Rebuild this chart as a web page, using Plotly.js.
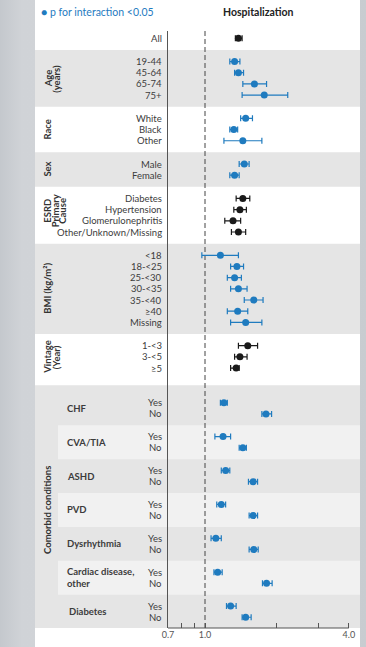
<!DOCTYPE html>
<html>
<head>
<meta charset="utf-8">
<script src="https://cdn.plot.ly/plotly-3.0.1.min.js"></script>
<style>
html,body{margin:0;padding:0;}
body{width:366px;height:647px;overflow:hidden;background:linear-gradient(90deg,#c4c8cd 0%,#d0d3d7 6%,#d2d5d9 50%,#c8ccd0 100%);}
#chart{width:366px;height:647px;}
</style>
</head>
<body>
<div id="chart"></div>
<script>
// ---------------- DATA ----------------
const groupTitles = ['', 'Age<br>(years)', 'Race', 'Sex', 'ESRD<br>Primary<br>Cause', 'BMI (kg/m²)', 'Vintage<br>(Year)', 'Comorbid conditions'];
const groupSizes = [1, 4, 3, 2, 4, 7, 3, 14];
const groupInteraction = [false, true, true, true, false, true, false, true];
const comorbidities = ['CHF', 'CVA/TIA', 'ASHD', 'PVD', 'Dysrhythmia', 'Cardiac disease,<br>other', 'Diabetes'];

const rowLabels = ['All',
  '19-44', '45-64', '65-74', '75+',
  'White', 'Black', 'Other',
  'Male', 'Female',
  'Diabetes', 'Hypertension', 'Glomerulonephritis', 'Other/Unknown/Missing',
  '<18', '18-<25', '25-<30', '30-<35', '35-<40', '≥40', 'Missing',
  '1-<3', '3-<5', '≥5',
  'Yes', 'No', 'Yes', 'No', 'Yes', 'No', 'Yes', 'No', 'Yes', 'No', 'Yes', 'No', 'Yes', 'No'];

const hazardRatio = [1.38,
  1.33, 1.38, 1.61, 1.77,
  1.48, 1.32, 1.44,
  1.46, 1.33,
  1.44, 1.40, 1.31, 1.38,
  1.16, 1.36, 1.33, 1.38, 1.60, 1.37, 1.48,
  1.51, 1.40, 1.35,
  1.20, 1.80, 1.19, 1.44, 1.22, 1.59, 1.17, 1.59, 1.11, 1.60, 1.13, 1.81, 1.28, 1.48];

const lowerCI = [1.34,
  1.27, 1.33, 1.44, 1.43,
  1.41, 1.27, 1.20,
  1.39, 1.27,
  1.35, 1.32, 1.21, 1.29,
  0.97, 1.28, 1.24, 1.28, 1.46, 1.24, 1.28,
  1.38, 1.33, 1.28,
  1.16, 1.73, 1.10, 1.39, 1.17, 1.52, 1.12, 1.53, 1.06, 1.53, 1.09, 1.74, 1.23, 1.43];

const upperCI = [1.43,
  1.40, 1.45, 1.81, 2.22,
  1.58, 1.37, 1.73,
  1.53, 1.39,
  1.54, 1.49, 1.41, 1.48,
  1.38, 1.45, 1.42, 1.50, 1.75, 1.51, 1.73,
  1.66, 1.50, 1.39,
  1.24, 1.90, 1.28, 1.49, 1.27, 1.66, 1.22, 1.66, 1.17, 1.67, 1.18, 1.91, 1.35, 1.56];

const xTickVals = [0.7, 0.8, 0.9, 1.0, 2.0, 3.0, 4.0];
const xTickText = ['0.7', '', '', '1.0', '', '', '4.0'];

// ---------------- LAYOUT HELPERS ----------------
const W = 366, H = 647, ML = 168, MR = 8, MT = 31, MB = 19;
const plotW = W - ML - MR, plotH = H - MT - MB;
const pxX = p => (p - ML) / plotW;
const pxY = p => (H - MB - p) / plotH;
const esc = s => s.replace(/</g, '&lt;');

const BLUE = '#1f7bbf', BLACK = '#1a1a1a';
const FONT = 'Lato, "Open Sans", sans-serif';
const COMORBID = groupTitles.length - 1;

// row positions (row units)
const rowY = [], rowSig = [];
const groupFirst = [], groupLast = [];
let y = 0, idx = 0;
groupSizes.forEach((n, g) => {
  if (g > 0) y += (g === COMORBID ? 3.1 : 2.08);
  groupFirst.push(idx);
  for (let i = 0; i < n; i++) {
    if (i > 0) y += (g === COMORBID && i % 2 === 0) ? 2.03 : 1.0;
    rowY.push(y); rowSig.push(groupInteraction[g]);
    idx++;
  }
  groupLast.push(idx - 1);
});
const yMax = rowY[rowY.length - 1] + 0.96;
const yMin = -0.65;

// ---------------- TRACES ----------------
function makeTrace(sig) {
  const ids = rowY.map((_, i) => i).filter(i => rowSig[i] === sig);
  const col = sig ? BLUE : BLACK;
  return {
    type: 'scatter', mode: 'markers',
    x: ids.map(i => hazardRatio[i]),
    y: ids.map(i => rowY[i]),
    marker: {color: col, size: 7},
    error_x: {type: 'data', symmetric: false,
      array: ids.map(i => upperCI[i] - hazardRatio[i]),
      arrayminus: ids.map(i => hazardRatio[i] - lowerCI[i]),
      color: col, thickness: 1.2, width: 3},
    hoverinfo: 'skip', showlegend: false, cliponaxis: false
  };
}
const traces = [makeTrace(false), makeTrace(true)];

// ---------------- SHAPES ----------------
const shapes = [];
shapes.push({type: 'rect', layer: 'below', xref: 'paper', yref: 'paper',
  x0: pxX(35), x1: pxX(360), y0: pxY(H + 2), y1: pxY(-2), fillcolor: '#ffffff', line: {width: 0}});
for (let g = 1; g < groupTitles.length; g++) {
  if (g % 2 === 0) continue;
  const y0 = (rowY[groupLast[g - 1]] + rowY[groupFirst[g]]) / 2;
  const y1 = g < groupTitles.length - 1 ? (rowY[groupLast[g]] + rowY[groupFirst[g + 1]]) / 2 : yMax;
  shapes.push({type: 'rect', layer: 'below', xref: 'paper', yref: 'y',
    x0: pxX(35), x1: pxX(360), y0: y0, y1: y1, fillcolor: '#e5e5e5', line: {width: 0}});
}
// lighter sub-bands inside comorbid block
const cFirst = groupFirst[COMORBID];
for (let k = 1; k < comorbidities.length; k += 2) {
  const a = cFirst + 2 * k;
  const y0 = (rowY[a - 1] + rowY[a]) / 2;
  const y1 = (rowY[a + 1] + rowY[a + 2]) / 2;
  shapes.push({type: 'rect', layer: 'below', xref: 'paper', yref: 'y',
    x0: pxX(58), x1: pxX(360), y0: y0, y1: y1, fillcolor: '#f1f1f1', line: {width: 0}});
}
// reference line at HR = 1
shapes.push({type: 'line', layer: 'below', xref: 'x', yref: 'paper', x0: 1, x1: 1, y0: 0, y1: 1,
  line: {color: '#444', width: 1, dash: '5px,3px'}});
// x-axis baseline
shapes.push({type: 'line', xref: 'x', yref: 'paper', x0: 0.7, x1: 4.0, y0: 0, y1: 0,
  line: {color: '#555', width: 1.2}});

// ---------------- ANNOTATIONS ----------------
const ann = [];
const labelFont = {family: FONT, size: 9.5, color: '#3c3c3c'};
rowLabels.forEach((lab, i) => {
  ann.push({xref: 'paper', yref: 'y', x: pxX(163.5), y: rowY[i], xanchor: 'right', yanchor: 'middle',
    text: esc(lab), showarrow: false, font: labelFont});
});
groupTitles.forEach((t, g) => {
  if (!t) return;
  const lines = t.split('<br>');
  const yc = (rowY[groupFirst[g]] + rowY[groupLast[g]]) / 2 - (lines.length > 2 ? 0.4 : 0);
  const step = lines.length > 2 ? 7.5 : 8.5;
  lines.forEach((line, j) => {
    ann.push({xref: 'paper', yref: 'y', x: pxX(48 + j * step), y: yc,
      xanchor: 'center', yanchor: 'middle', textangle: -90, text: '<b>' + line + '</b>',
      showarrow: false, font: {family: FONT, size: 9.5, color: '#333'}});
  });
});
comorbidities.forEach((c, k) => {
  const a = cFirst + 2 * k;
  ann.push({xref: 'paper', yref: 'y', x: pxX(k === comorbidities.length - 1 ? 67 : 65), y: (rowY[a] + rowY[a + 1]) / 2,
    xanchor: 'left', yanchor: 'middle', align: 'left', text: '<b>' + c + '</b>',
    showarrow: false, font: {family: FONT, size: 9.5, color: '#3c3c3c'}});
});
ann.push({xref: 'paper', yref: 'paper', x: pxX(39), y: pxY(12), xanchor: 'left', yanchor: 'middle',
  text: '● p for interaction &lt;0.05', showarrow: false, font: {family: FONT, size: 10.5, color: BLUE}});
ann.push({xref: 'paper', yref: 'paper', x: pxX(258), y: pxY(12), xanchor: 'center', yanchor: 'middle',
  text: '<b>Hospitalization</b>', showarrow: false, font: {family: FONT, size: 10.5, color: '#222'}});

const layout = {
  width: W, height: H,
  margin: {l: ML, r: MR, t: MT, b: MB, pad: 0},
  paper_bgcolor: 'rgba(0,0,0,0)', plot_bgcolor: 'rgba(0,0,0,0)',
  showlegend: false,
  xaxis: {type: 'log', range: [Math.log10(0.7), Math.log10(4.37)], autorange: false,
    tickvals: xTickVals, ticktext: xTickText, ticks: 'inside', ticklen: 5, tickwidth: 1, tickcolor: '#555',
    showgrid: false, zeroline: false, showline: false,
    tickfont: {family: FONT, size: 9, color: '#555'}, automargin: false},
  yaxis: {range: [yMax, yMin], autorange: false, showticklabels: false, ticks: '',
    showgrid: false, zeroline: false, showline: true, linecolor: '#555', linewidth: 1.5, automargin: false},
  shapes: shapes,
  annotations: ann
};

Plotly.newPlot('chart', traces, layout, {displayModeBar: false, staticPlot: true});
</script>
</body>
</html>
